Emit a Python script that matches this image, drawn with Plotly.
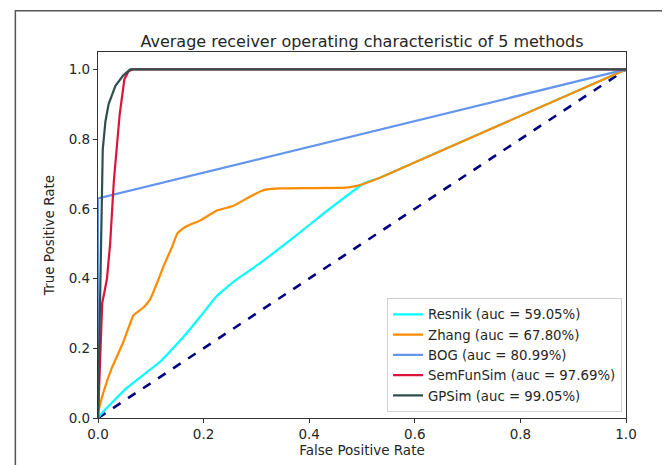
import plotly.graph_objects as go

# ---- data ----
resnik_fpr = [0.0, 0.011, 0.055, 0.118, 0.168, 0.200, 0.225, 0.260, 0.307, 0.364, 0.430, 0.506, 0.534, 1.0]
resnik_tpr = [0.0, 0.020, 0.087, 0.162, 0.243, 0.303, 0.350, 0.395, 0.444, 0.510, 0.590, 0.675, 0.689, 1.0]

zhang_fpr = [0.0, 0.001, 0.011, 0.026, 0.048, 0.067, 0.086, 0.099, 0.112, 0.124, 0.140, 0.150, 0.165,
             0.194, 0.225, 0.257, 0.282, 0.307, 0.320, 0.345, 0.471, 0.490, 0.509, 0.534, 1.0]
zhang_tpr = [0.0, 0.020, 0.077, 0.143, 0.218, 0.294, 0.317, 0.341, 0.388, 0.435, 0.490, 0.529, 0.548,
             0.567, 0.595, 0.609, 0.630, 0.650, 0.656, 0.659, 0.661, 0.666, 0.675, 0.689, 1.0]

bog_fpr = [0.0, 0.0, 1.0]
bog_tpr = [0.0, 0.63, 1.0]

semfun_fpr = [0.0, 0.003, 0.006, 0.008, 0.012, 0.017, 0.023, 0.030, 0.041, 0.050, 0.058, 0.065, 1.0]
semfun_tpr = [0.0, 0.120, 0.250, 0.330, 0.360, 0.400, 0.500, 0.680, 0.870, 0.972, 0.995, 1.0, 1.0]

gpsim_fpr = [0.0, 0.003, 0.006, 0.009, 0.014, 0.020, 0.033, 0.048, 0.061, 1.0]
gpsim_tpr = [0.0, 0.300, 0.600, 0.770, 0.850, 0.900, 0.953, 0.983, 1.0, 1.0]

methods = ["Resnik", "Zhang", "BOG", "SemFunSim", "GPSim"]
aucs = [59.05, 67.80, 80.99, 97.69, 99.05]
colors = ["#00FFFF", "#FF8C00", "#6495ED", "#DC143C", "#2F4F4F"]
xs = [resnik_fpr, zhang_fpr, bog_fpr, semfun_fpr, gpsim_fpr]
ys = [resnik_tpr, zhang_tpr, bog_tpr, semfun_tpr, gpsim_tpr]
smooth = [True, True, False, False, False]

tick_vals = [0.0, 0.2, 0.4, 0.6, 0.8, 1.0]
tick_text = ["0.0", "0.2", "0.4", "0.6", "0.8", "1.0"]

FONT = "DejaVu Sans"

fig = go.Figure()
fig.add_trace(go.Scatter(x=[0, 1], y=[0, 1], mode="lines", showlegend=False,
                         line=dict(color="#000080", width=2.6, dash="dash")))
for name, auc, c, x, y, sm in zip(methods, aucs, colors, xs, ys, smooth):
    line = dict(color=c, width=2.2)
    if sm:
        line.update(shape="spline", smoothing=0.3)
    fig.add_trace(go.Scatter(x=x, y=y, mode="lines", name=f"{name} (auc = {auc:.2f}%)", line=line))

fig.update_layout(
    width=662, height=457,
    margin=dict(l=90, r=44, t=44, b=33),
    paper_bgcolor="white", plot_bgcolor="white",
    font=dict(family=FONT, color="#262626", size=13),
    title=dict(text="Average receiver operating characteristic of 5 methods",
               x=0.5, xref="paper", xanchor="center",
               y=1, yref="paper", yanchor="bottom", pad=dict(b=5),
               font=dict(size=16, family=FONT, color="#262626")),
    showlegend=True,
    legend=dict(x=0.9925, y=0.016, xanchor="right", yanchor="bottom",
                bgcolor="rgba(255,255,255,0.9)", bordercolor="#d0d0d0", borderwidth=1,
                font=dict(size=13.3, family=FONT, color="#262626"),
                tracegroupgap=0, itemwidth=30),
)
fig.update_xaxes(range=[0, 1], tickvals=tick_vals, ticktext=tick_text,
                 showgrid=False, zeroline=False, showline=True, mirror=True,
                 linecolor="#333", linewidth=1.2, ticks="outside", ticklen=4, tickcolor="#333",
                 title=dict(text="False Positive Rate", standoff=1, font=dict(size=13.5)),
                 tickfont=dict(size=13.5))
fig.update_yaxes(range=[0, 1.05], tickvals=tick_vals, ticktext=tick_text,
                 showgrid=False, zeroline=False, showline=True, mirror=True,
                 linecolor="#333", linewidth=1.2, ticks="outside", ticklen=4, tickcolor="#333",
                 title=dict(text="True Positive Rate", standoff=10, font=dict(size=13.5)),
                 tickfont=dict(size=13.5))

# outer image frame
fig.add_shape(type="rect", xref="paper", yref="paper",
              x0=-0.1565, x1=1.0795, y0=-0.2, y1=1.113,
              line=dict(color="#555", width=1.5), fillcolor="rgba(0,0,0,0)", layer="above")

fig.write_html("out.html")
